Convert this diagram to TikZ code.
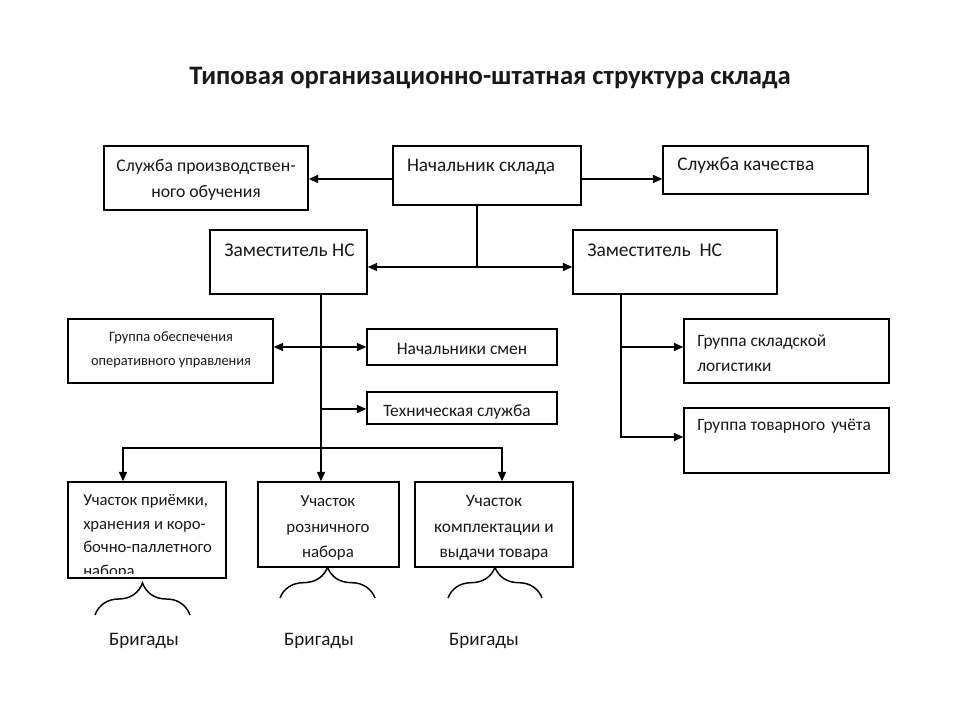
\documentclass[tikz,border=0pt]{standalone}
\usepackage{fontspec}
\setmainfont{Carlito}
\usetikzlibrary{arrows.meta,fit,decorations.pathreplacing}
\newcommand{\fsz}[2]{\fontsize{#1}{#2}\selectfont}
\begin{document}
\begin{tikzpicture}[x=0.75pt,y=-0.75pt,
  box/.style={draw, line width=1.1pt, inner sep=0pt},
  txt/.style={inner sep=0pt, text=black!90},
  arr/.style={line width=1.1pt, -{Triangle[length=7pt,width=6pt]}},
  darr/.style={line width=1.1pt, {Triangle[length=7pt,width=6pt]}-{Triangle[length=7pt,width=6pt]}},
  bracest/.style={line width=1.1pt, decorate, decoration={brace, amplitude=#1}}
]
\useasboundingbox (0,0) rectangle (960,720);
\fill[white] (0,0) rectangle (960,720);

% title
\node[txt, font=\fsz{20}{24}\bfseries] (title) at (490,78) {Типовая организационно-штатная структура склада};

% boxes
\node[box, fit={(104,146) (308,210)}] (obuch) {};
\node[box, fit={(393,146) (581,205)}] (nach) {};
\node[box, fit={(663,146) (868,194)}] (kach) {};
\node[box, fit={(210,230) (367,294)}] (zamL) {};
\node[box, fit={(573,230) (777,294)}] (zamR) {};
\node[box, fit={(68,319) (273,383)}] (oper) {};
\node[box, fit={(367,329) (557,365)}] (smen) {};
\node[box, fit={(367,392) (557,424)}] (tech) {};
\node[box, fit={(684,319) (889,383)}] (logist) {};
\node[box, fit={(684,408) (889,473)}] (uchet) {};
\node[box, fit={(68,482) (226,578)}] (uch1) {};
\node[box, fit={(258,482) (399,567)}] (uch2) {};
\node[box, fit={(415,482) (573,567)}] (uch3) {};

% texts
\node[txt, align=center, font=\fsz{13.3}{19.5}] (tobuch) at (206,180) {Служба производствен-\\ного обучения};
\node[txt, font=\fsz{14.4}{17}] (tnach) at (481,167) {Начальник склада};
\node[txt, anchor=west, font=\fsz{14.5}{17}] (tkach) at (677,165) {Служба качества};
\node[txt, font=\fsz{14.6}{17}] (tzamL) at (289.5,250) {Заместитель НС};
\node[txt, anchor=west, font=\fsz{14.6}{17}] (tzamR) at (587,250) {Заместитель~ НС};
\node[txt, align=center, font=\fsz{10.8}{18}] (toper) at (171,350) {Группа обеспечения\\оперативного управления};
\node[txt, font=\fsz{13.1}{16}] (tsmen) at (462,349) {Начальники смен};
\node[txt, font=\fsz{13}{16}] (ttech) at (457,412) {Техническая служба};
\node[txt, anchor=west, align=left, font=\fsz{13}{18.75}] (tlogist) at (697,353) {Группа складской\\логистики};
\node[txt, anchor=west, font=\fsz{13}{16}] (tuchet) at (697,426) {Группа товарного\hspace{0.12em} учёта};
\begin{scope}
  \clip (68,482) rectangle (226,573);
  \node[txt, anchor=west, align=left, font=\fsz{12.5}{17.6}] (tuch1) at (83,537) {Участок приёмки,\\хранения и коро-\\бочно-паллетного\\набора};
\end{scope}
\node[txt, align=center, font=\fsz{12.6}{19}] (tuch2) at (328,528) {Участок\\розничного\\набора};
\node[txt, align=center, font=\fsz{13}{19}] (tuch3) at (494,528) {Участок\\комплектации и\\выдачи товара};

% braces and labels
\draw[bracest=24pt] (95,615) -- (190,615);
\draw[bracest=23pt] (280,598) -- (375,598);
\draw[bracest=23pt] (448,598) -- (542,598);
\node[txt, font=\fsz{14.3}{17}] (br1) at (144,641) {Бригады};
\node[txt, font=\fsz{14.3}{17}] (br2) at (319,641) {Бригады};
\node[txt, font=\fsz{14.3}{17}] (br3) at (484,641) {Бригады};

% connectors
\coordinate (a1) at ([yshift=-2.6pt]nach.west);
\draw[arr] (a1) -- (obuch.east |- a1);
\draw[arr] (nach.east |- a1) -- (kach.west |- a1);

\coordinate (j1) at (477,267);
\draw[arr] (j1 |- nach.south) -- (j1) -- (zamL.east |- j1);
\draw[arr] (j1) -- (zamR.west |- j1);

\coordinate (j2) at (321,347);
\coordinate (j3) at (321,409);
\coordinate (j4) at (321,448);
\coordinate (b1) at (123,448);
\coordinate (b3) at (502,448);
\draw[arr] (j2 |- zamL.south) -- (j4 |- uch2.north);
\draw[darr] (oper.east |- j2) -- (smen.west |- j2);
\draw[arr] (j3) -- (tech.west |- j3);
\draw[arr] (j4) -- (b1) -- (b1 |- uch1.north);
\draw[arr] (j4) -- (b3) -- (b3 |- uch3.north);

\coordinate (r1) at (621,347);
\coordinate (r2) at (621,437);
\draw[arr] (r1 |- zamR.south) -- (r2) -- (uchet.west |- r2);
\draw[arr] (r1) -- (logist.west |- r1);
\end{tikzpicture}
\end{document}
